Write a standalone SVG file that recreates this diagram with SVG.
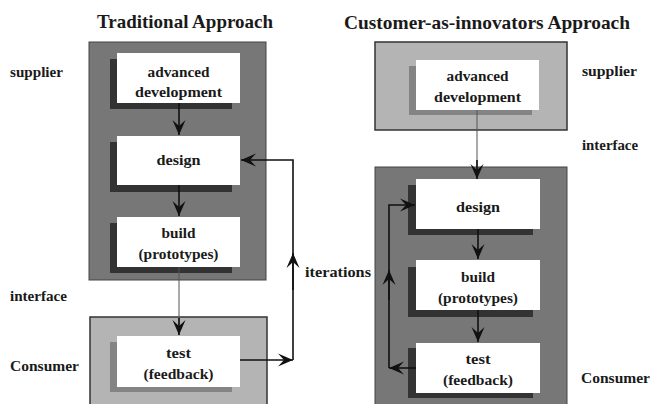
<svg xmlns="http://www.w3.org/2000/svg" width="650" height="404" viewBox="0 0 650 404">
  <style>
    text { font-family: "Liberation Serif", "Times New Roman", "DejaVu Serif", serif; font-weight: bold; fill: #1a1a1a; }
    .title { font-size: 19px; text-anchor: middle; }
    .side { font-size: 14px; }
    .lbl { font-size: 14.5px; text-anchor: middle; }
    .panel-dark { fill: #777; stroke: #444; stroke-width: 1; }
    .panel-light { fill: #b4b4b4; stroke: #333; stroke-width: 1.5; }
    .shadow-dark { fill: #333; }
    .shadow-light { fill: #848484; }
    .box { fill: #fff; }
    .flow { stroke: #111; stroke-width: 1.6; fill: none; }
    .thin { stroke: #555; stroke-width: 1; fill: none; }
  </style>
  <defs>
    <marker id="arrow" viewBox="-15 -7 16 14" markerWidth="16" markerHeight="14" refX="0" refY="0" orient="auto" markerUnits="userSpaceOnUse">
      <path d="M0,0 L-15,-6.5 L-9,0 L-15,6.5 Z" fill="#111"/>
    </marker>
  </defs>

  <rect width="650" height="404" fill="#fff"/>

  <!-- column titles -->
  <text class="title" x="185" y="28" textLength="176" lengthAdjust="spacingAndGlyphs">Traditional Approach</text>
  <text class="title" x="487" y="29" textLength="286" lengthAdjust="spacingAndGlyphs">Customer-as-innovators Approach</text>

  <!-- side labels -->
  <text class="side" x="10" y="77" textLength="53" lengthAdjust="spacingAndGlyphs">supplier</text>
  <text class="side" x="10" y="301" textLength="57" lengthAdjust="spacingAndGlyphs">interface</text>
  <text class="side" x="10" y="371" textLength="69" lengthAdjust="spacingAndGlyphs">Consumer</text>
  <text class="side" x="582" y="76" textLength="55" lengthAdjust="spacingAndGlyphs">supplier</text>
  <text class="side" x="582" y="150" textLength="56" lengthAdjust="spacingAndGlyphs">interface</text>
  <text class="side" x="581" y="383" textLength="69" lengthAdjust="spacingAndGlyphs">Consumer</text>
  <text class="side" x="305" y="277" textLength="66" lengthAdjust="spacingAndGlyphs">iterations</text>

  <!-- panels -->
  <rect id="trad-supplier" class="panel-dark" x="89" y="42" width="177" height="238"/>
  <rect id="trad-consumer" class="panel-light" x="90" y="317" width="177" height="92"/>
  <rect id="cai-supplier" class="panel-light" x="375" y="42" width="192" height="88"/>
  <rect id="cai-consumer" class="panel-dark" x="375" y="167" width="192" height="242"/>

  <!-- traditional approach nodes -->
  <g id="trad-advdev">
    <rect class="shadow-dark" x="110" y="59" width="122" height="50"/>
    <rect class="box" x="117" y="53" width="123" height="50"/>
    <text class="lbl" x="178.5" y="77" textLength="62" lengthAdjust="spacingAndGlyphs">advanced</text>
    <text class="lbl" x="178.5" y="97" textLength="87" lengthAdjust="spacingAndGlyphs">development</text>
  </g>
  <g id="trad-design">
    <rect class="shadow-dark" x="110" y="142" width="122" height="50"/>
    <rect class="box" x="117" y="136" width="123" height="49"/>
    <text class="lbl" x="178.5" y="165" textLength="44" lengthAdjust="spacingAndGlyphs">design</text>
  </g>
  <g id="trad-build">
    <rect class="shadow-dark" x="110" y="223" width="122" height="50"/>
    <rect class="box" x="117" y="217" width="123" height="50"/>
    <text class="lbl" x="178.5" y="238" textLength="34" lengthAdjust="spacingAndGlyphs">build</text>
    <text class="lbl" x="178.5" y="259" textLength="80" lengthAdjust="spacingAndGlyphs">(prototypes)</text>
  </g>
  <g id="trad-test">
    <rect class="shadow-light" x="110" y="342" width="122" height="50"/>
    <rect class="box" x="117" y="336" width="123" height="51"/>
    <text class="lbl" x="178.5" y="358" textLength="25" lengthAdjust="spacingAndGlyphs">test</text>
    <text class="lbl" x="178.5" y="379" textLength="70" lengthAdjust="spacingAndGlyphs">(feedback)</text>
  </g>

  <!-- customer-as-innovators nodes -->
  <g id="cai-advdev">
    <rect class="shadow-light" x="409" y="66" width="123" height="49"/>
    <rect class="box" x="416" y="60" width="123" height="50"/>
    <text class="lbl" x="477.5" y="81" textLength="62" lengthAdjust="spacingAndGlyphs">advanced</text>
    <text class="lbl" x="477.5" y="102" textLength="87" lengthAdjust="spacingAndGlyphs">development</text>
  </g>
  <g id="cai-design">
    <rect class="shadow-dark" x="408" y="185" width="125" height="50"/>
    <rect class="box" x="416" y="179" width="124" height="50"/>
    <text class="lbl" x="478" y="212" textLength="44" lengthAdjust="spacingAndGlyphs">design</text>
  </g>
  <g id="cai-build">
    <rect class="shadow-dark" x="408" y="267" width="125" height="50"/>
    <rect class="box" x="416" y="260" width="124" height="50"/>
    <text class="lbl" x="478" y="282" textLength="34" lengthAdjust="spacingAndGlyphs">build</text>
    <text class="lbl" x="478" y="303" textLength="80" lengthAdjust="spacingAndGlyphs">(prototypes)</text>
  </g>
  <g id="cai-test">
    <rect class="shadow-dark" x="408" y="348" width="125" height="50"/>
    <rect class="box" x="416" y="343" width="124" height="50"/>
    <text class="lbl" x="478" y="364" textLength="25" lengthAdjust="spacingAndGlyphs">test</text>
    <text class="lbl" x="478" y="385" textLength="70" lengthAdjust="spacingAndGlyphs">(feedback)</text>
  </g>

  <!-- connectors -->
  <g id="connectors">
    <path class="flow" d="M179,103 V135" marker-end="url(#arrow)"/>
    <path class="flow" d="M179,185 V216" marker-end="url(#arrow)"/>
    <path class="thin" d="M179,267 V335"/>
    <path class="flow" d="M179,318 V335" marker-end="url(#arrow)"/>
    <path class="flow" d="M240,360 H293" marker-end="url(#arrow)"/>
    <path class="flow" d="M293,360 V160 H241" marker-end="url(#arrow)"/>
    <path class="flow" d="M293,290 V253" marker-end="url(#arrow)"/>

    <path class="thin" d="M477,110 V179"/>
    <path class="flow" d="M477,160 V179" marker-end="url(#arrow)"/>
    <path class="flow" d="M478,229 V259" marker-end="url(#arrow)"/>
    <path class="flow" d="M478,310 V342" marker-end="url(#arrow)"/>
    <path class="flow" d="M416,368 H389" marker-end="url(#arrow)"/>
    <path class="flow" d="M389,368 V205 H415" marker-end="url(#arrow)"/>
    <path class="flow" d="M389,300 V270" marker-end="url(#arrow)"/>
  </g>
</svg>
